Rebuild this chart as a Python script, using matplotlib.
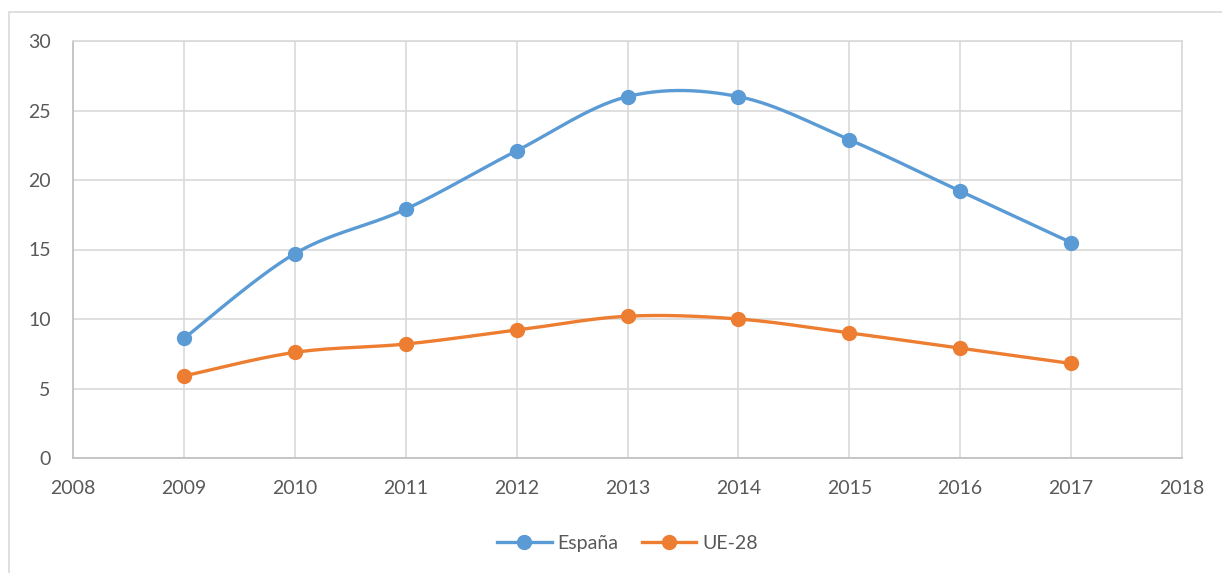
import numpy as np
import matplotlib
matplotlib.use('Agg')
import matplotlib.pyplot as plt
from matplotlib.patches import Rectangle

years = [2009, 2010, 2011, 2012, 2013, 2014, 2015, 2016, 2017]
espana = [8.6, 14.7, 17.9, 22.1, 26.0, 26.0, 22.9, 19.2, 15.5]
ue28 = [5.9, 7.6, 8.2, 9.2, 10.2, 10.0, 9.0, 7.9, 6.8]
series_names = ['España', 'UE-28']
colors = ['#5B9BD5', '#ED7D31']


def smooth(x, y, n=30):
    # Catmull-Rom style bezier, like Excel's smoothed line
    x = np.asarray(x, float)
    y = np.asarray(y, float)
    px = np.concatenate([[x[0]], x, [x[-1]]])
    py = np.concatenate([[y[0]], y, [y[-1]]])
    xs, ys = [], []
    t = np.linspace(0, 1, n)
    for i in range(1, len(px) - 2):
        p0 = np.array([px[i], py[i]])
        p3 = np.array([px[i + 1], py[i + 1]])
        c1 = p0 + (np.array([px[i + 1], py[i + 1]]) - np.array([px[i - 1], py[i - 1]])) / 6
        c2 = p3 - (np.array([px[i + 2], py[i + 2]]) - np.array([px[i], py[i]])) / 6
        b = ((1 - t) ** 3)[:, None] * p0 + (3 * (1 - t) ** 2 * t)[:, None] * c1 \
            + (3 * (1 - t) * t ** 2)[:, None] * c2 + (t ** 3)[:, None] * p3
        xs.extend(b[:, 0])
        ys.extend(b[:, 1])
    return np.array(xs), np.array(ys)


plt.rcParams['font.family'] = ['Lato', 'DejaVu Sans']
fig = plt.figure(figsize=(12.22, 5.73), dpi=100)
ax = fig.add_axes([73 / 1222, 115 / 573, 1109 / 1222, 417 / 573])

fig.patches.append(Rectangle((9 / 1222, -0.05), 1.1, 0.05 + 561 / 573,
                             transform=fig.transFigure, fill=False,
                             edgecolor='#D9D9D9', linewidth=1.2))

for vals, name, c in zip([espana, ue28], series_names, colors):
    sx, sy = smooth(years, vals)
    ax.plot(sx, sy, color=c, linewidth=2.4, solid_capstyle='round', zorder=3)
    ax.plot(years, vals, 'o', color=c, markersize=10, zorder=4)
    ax.plot([], [], '-o', color=c, linewidth=2.4, markersize=10, label=name)

ax.set_xlim(2008, 2018)
ax.set_ylim(0, 30)
ax.set_xticks(range(2008, 2019))
ax.set_yticks(range(0, 31, 5))
ax.grid(True, color='#D9D9D9', linewidth=1.2)
ax.set_axisbelow(True)
for s in ['top', 'right']:
    ax.spines[s].set_color('#D9D9D9')
    ax.spines[s].set_linewidth(1.2)
for s in ['left', 'bottom']:
    ax.spines[s].set_color('#BFBFBF')
    ax.spines[s].set_linewidth(1.2)
ax.tick_params(length=0, labelsize=14, colors='#595959', pad=16)
ax.tick_params(axis='y', pad=16)

ax.legend(loc='center', bbox_to_anchor=(0.5, -0.205), ncol=2, frameon=False,
          fontsize=14, labelcolor='#595959', handlelength=2.8,
          handletextpad=0.3, columnspacing=1.2)

fig.savefig('out.png', dpi=100)
